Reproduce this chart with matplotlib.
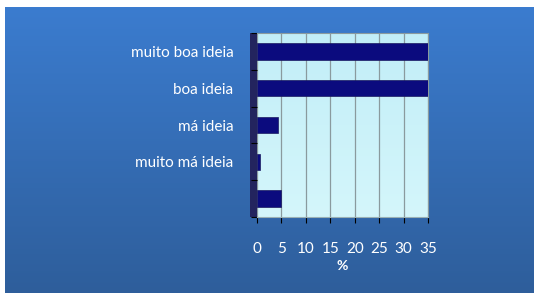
import numpy as np
import matplotlib
matplotlib.use("Agg")
import matplotlib.pyplot as plt
from matplotlib.colors import LinearSegmentedColormap

categories = ["muito boa ideia", "boa ideia", "má ideia", "muito má ideia", ""]
values = [40, 40, 4.3, 0.6, 5.0]
xticks = [0, 5, 10, 15, 20, 25, 30, 35]
xlabel = "%"

W, H = 534, 293
fig = plt.figure(figsize=(W / 100, H / 100), dpi=100)
fig.patch.set_facecolor("white")

# background gradient panel
bg = fig.add_axes([5 / W, 0, 1 - 5 / W, 1 - 7 / H])
bg.set_axis_off()
grad = np.linspace(0, 1, 256).reshape(-1, 1)
cmap_bg = LinearSegmentedColormap.from_list("bg", ["#3b7ccf", "#2e5e9b"])
bg.imshow(grad, aspect="auto", cmap=cmap_bg, extent=[0, 1, 0, 1], origin="upper")
bg.set_xlim(0, 1)
bg.set_ylim(0, 1)

# left wall (3D look)
wall = fig.add_axes([250 / W, 1 - 217 / H, 8 / W, (217 - 33) / H])
wall.set_facecolor("#23245e")
wall.set_xticks([])
wall.set_yticks([])
for s in wall.spines.values():
    s.set_visible(False)

left, right, top, bottom = 257, 428, 33, 217
ax = fig.add_axes([left / W, 1 - bottom / H, (right - left) / W, (bottom - top) / H])
ax.set_zorder(3)
ax.patch.set_alpha(0)
face_cmap = LinearSegmentedColormap.from_list("face", ["#d4f6fb", "#c2eef8"])
ax.imshow(grad, aspect="auto", cmap=face_cmap, extent=[0, 35, -0.5, 4.5],
          origin="upper", zorder=0)

y = np.arange(len(categories))
ax.barh(y, values, height=0.45, color="#0b0b7e", edgecolor="#1a1a60",
        linewidth=0.5, zorder=3, clip_on=True)
ax.set_xlim(0, 35)
ax.set_ylim(len(categories) - 0.5, -0.5)
ax.set_xticks(xticks)
ax.set_xticklabels([str(t) for t in xticks])
ax.xaxis.grid(True, color="#8a9a9e", linewidth=0.9, zorder=1)
ax.set_axisbelow(True)
ax.set_yticks(y)
ax.set_yticklabels(categories)
ax.set_yticks(np.arange(-0.5, len(categories) + 0.5, 1), minor=True)
ax.tick_params(axis="y", which="major", length=0, pad=17, labelcolor="white",
               labelsize=11)
ax.tick_params(axis="y", which="minor", length=4, color="black", width=0.8)
ax.tick_params(axis="x", length=4, color="black", width=0.8, pad=14,
               labelcolor="white", labelsize=11)
for lab in ax.get_xticklabels() + ax.get_yticklabels():
    lab.set_fontfamily("Lato")
for name, s in ax.spines.items():
    if name == "bottom":
        s.set_color("#9ab0b4")
    elif name == "left":
        s.set_visible(False)
    else:
        s.set_color("#8a9a9e")
ax.set_xlabel(xlabel, color="white", fontsize=10, fontfamily="Lato",
              fontweight="bold", labelpad=3)

fig.savefig("out.png", dpi=100)
